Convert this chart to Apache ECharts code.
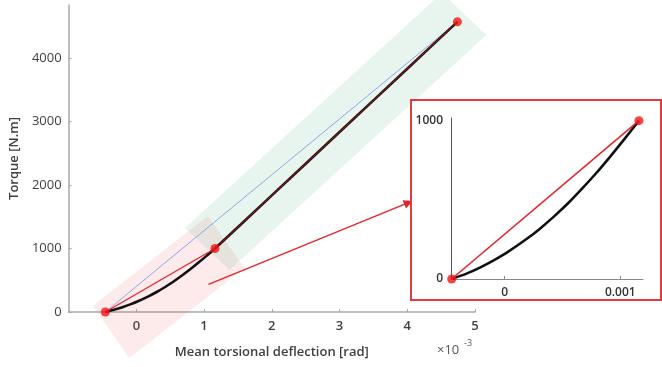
<!DOCTYPE html>
<html><head><meta charset="utf-8">
<script src="https://cdn.jsdelivr.net/npm/echarts@6/dist/echarts.min.js"></script>
<style>html,body{margin:0;padding:0;background:#fff}#c{width:662px;height:367px}</style>
</head><body><div id="c"></div>
<script>
// deflection in units of 1e-3 rad
const deflection = [-0.458, -0.33, -0.205, -0.08, 0.015, 0.186, 0.30, 0.425, 0.55, 0.673, 0.80, 0.918, 1.04, 1.161, 2.0, 3.0, 4.0, 4.74];
const torque = [0, 34, 75, 124, 165, 251, 315, 394, 480, 574, 676, 778, 888, 1000, 1837, 2834, 3831, 4570];
const keyIdx = [0, 13, 17];         // highlighted points
const insetLast = 13;               // inset shows curve up to 1000 N.m
const xTicks = [0, 1, 2, 3, 4, 5];
const yTicks = [0, 1000, 2000, 3000, 4000];
const insetXTicks = [0, 1];
const insetYTicks = [0, 1000];
const pinkBand = [[-0.644, 94], [-0.102, -724], [1.596, 693], [1.054, 1512]];
const greenBand = [[0.717, 1323], [1.376, 661], [5.168, 4362], [4.51, 5024]];
const arrowFrom = [1.066, 436];
const arrowTo = [4.018, 1721];

const pts = deflection.map((d, i) => [d, torque[i]]);
const keyPts = keyIdx.map(i => pts[i]);
const first = pts[0], mid = pts[keyIdx[1]], last = pts[pts.length - 1];
const insetPts = pts.slice(0, insetLast + 1);

const font = 'Open Sans';
const plain = v => String(v);
function band(corners, fill) {
  return {
    type: 'custom', xAxisIndex: 0, yAxisIndex: 0, z: 1, silent: true, clip: false,
    data: [0],
    renderItem: (p, api) => ({
      type: 'polygon',
      shape: { points: corners.map(c => api.coord(c)) },
      style: { fill: fill }
    })
  };
}

const chart = echarts.init(document.getElementById('c'), null, { renderer: 'canvas' });
chart.setOption({
  animation: false,
  backgroundColor: '#fff',
  grid: [
    { left: 66, top: 5, width: 409, height: 307 },
    { left: 411, top: 100, width: 250, height: 200, show: true, backgroundColor: '#fff',
      borderColor: '#e03c3c', borderWidth: 2, z: 3 },
    { left: 451, top: 118, width: 192, height: 161, z: 4 }
  ],
  xAxis: [
    { type: 'value', gridIndex: 0, min: -1, max: 5,
      name: 'Mean torsional deflection [rad]', nameLocation: 'middle', nameGap: 34,
      nameTextStyle: { fontFamily: font, fontSize: 13, fontWeight: 600, color: '#404040' },
      axisLine: { onZero: false, lineStyle: { color: '#a8a8a8', width: 1.5 } },
      axisTick: { inside: true, length: 3, customValues: xTicks, lineStyle: { color: '#a8a8a8' } },
      axisLabel: { customValues: xTicks, margin: 8, fontFamily: font, fontSize: 13, fontWeight: 600, color: '#404040', formatter: plain },
      splitLine: { show: false } },
    { type: 'value', gridIndex: 1, show: false, min: 0, max: 1 },
    { type: 'value', gridIndex: 2, min: -0.464, max: 1.196, z: 4,
      axisLine: { onZero: false, lineStyle: { color: '#888', width: 1 } },
      axisTick: { inside: true, length: 3, customValues: insetXTicks, lineStyle: { color: '#888' } },
      axisLabel: { customValues: insetXTicks, margin: 8, fontFamily: font, fontSize: 12, fontWeight: 600, color: '#333',
        formatter: v => v === 0 ? '0' : String(+(v / 1000).toFixed(4)) },
      splitLine: { show: false } }
  ],
  yAxis: [
    { type: 'value', gridIndex: 0, min: 0, max: 4835,
      name: 'Torque [N.m]', nameLocation: 'middle', nameGap: 45,
      nameTextStyle: { fontFamily: font, fontSize: 13, fontWeight: 600, color: '#404040' },
      axisLine: { show: true, onZero: false, lineStyle: { color: '#a8a8a8', width: 1.5 } },
      axisTick: { show: true, inside: true, length: 3, customValues: yTicks, lineStyle: { color: '#a8a8a8' } },
      axisLabel: { customValues: yTicks, margin: 7, fontFamily: font, fontSize: 13, color: '#404040', formatter: plain },
      splitLine: { show: false } },
    { type: 'value', gridIndex: 1, show: false, min: 0, max: 1 },
    { type: 'value', gridIndex: 2, min: 0, max: 1017, z: 4,
      axisLine: { show: true, onZero: false, lineStyle: { color: '#555', width: 1 } },
      axisTick: { show: false },
      axisLabel: { customValues: insetYTicks, margin: 8, fontFamily: font, fontSize: 12, fontWeight: 600, color: '#333', formatter: plain },
      splitLine: { show: false } }
  ],
  graphic: [
    { type: 'text', left: 437, top: 344, z: 10, style: { text: '×10', font: '13px "Open Sans"', fill: '#555' } },
    { type: 'text', left: 464, top: 339, z: 10, style: { text: '-3', font: '9px "Open Sans"', fill: '#555' } }
  ],
  series: [
    band(pinkBand, 'rgba(240,120,120,0.15)'),
    band(greenBand, 'rgba(80,180,120,0.13)'),
    { type: 'line', xAxisIndex: 0, yAxisIndex: 0, z: 2, data: [first, last], symbol: 'none',
      lineStyle: { color: '#8ea6e6', width: 1 } },
    { type: 'line', xAxisIndex: 0, yAxisIndex: 0, z: 3, data: pts, symbol: 'none',
      smooth: 0.25, lineStyle: { color: '#111', width: 2.6, join: 'round' } },
    { type: 'line', xAxisIndex: 0, yAxisIndex: 0, z: 3, data: [first, mid], symbol: 'none',
      lineStyle: { color: '#e3242b', width: 1.3 } },
    { type: 'line', xAxisIndex: 0, yAxisIndex: 0, z: 3, data: [mid, last], symbol: 'none',
      lineStyle: { color: '#b01818', width: 1 } },
    { type: 'scatter', xAxisIndex: 0, yAxisIndex: 0, z: 4, data: keyPts, symbolSize: 9,
      itemStyle: { color: '#f01414' } },
    { type: 'lines', coordinateSystem: 'cartesian2d', xAxisIndex: 0, yAxisIndex: 0, z: 2,
      symbol: ['none', 'triangle'], symbolSize: 9,
      data: [{ coords: [arrowFrom, arrowTo] }],
      lineStyle: { color: '#e3242b', width: 1.3, opacity: 1, curveness: 0 } },
    // inset
    { type: 'line', xAxisIndex: 2, yAxisIndex: 2, z: 5, data: insetPts, symbol: 'none',
      smooth: 0.25, lineStyle: { color: '#111', width: 2.6, join: 'round' } },
    { type: 'line', xAxisIndex: 2, yAxisIndex: 2, z: 6, data: [insetPts[0], insetPts[insetPts.length - 1]], symbol: 'none',
      lineStyle: { color: '#e3242b', width: 1.6 } },
    { type: 'scatter', xAxisIndex: 2, yAxisIndex: 2, z: 7, data: [insetPts[0], insetPts[insetPts.length - 1]],
      symbolSize: 9, itemStyle: { color: '#f01414' } }
  ]
});
</script></body></html>
